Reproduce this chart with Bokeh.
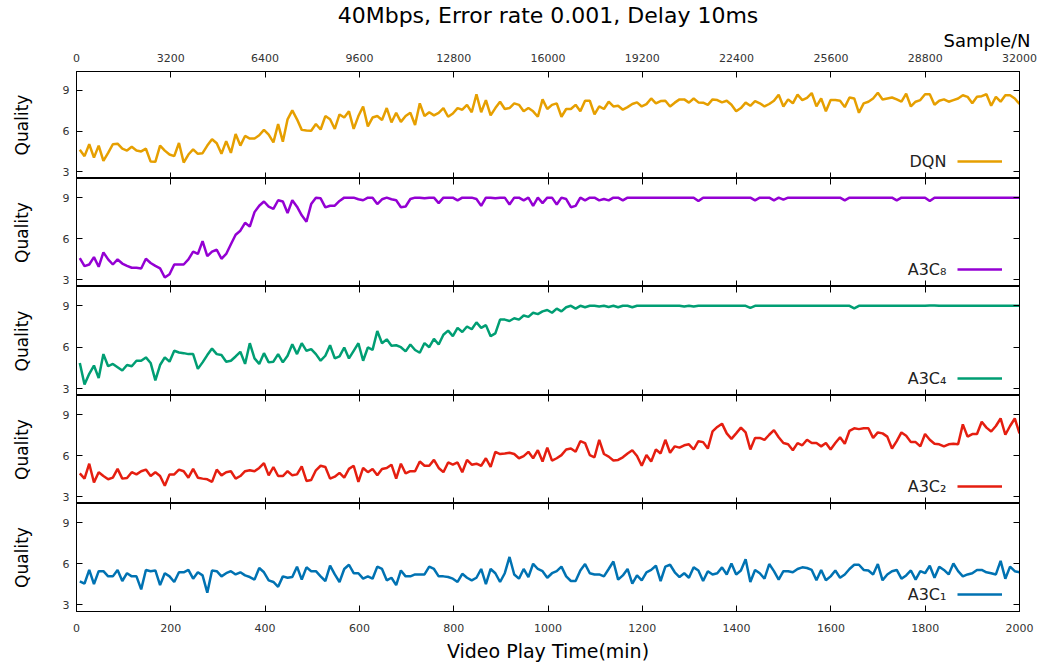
import numpy as np
from bokeh.plotting import figure
from bokeh.layouts import column
from bokeh.models import (Range1d, LinearAxis, FixedTicker, Title, Label,
                          Legend, LegendItem, CustomLabelingPolicy)
from bokeh.embed import file_html
from bokeh.resources import INLINE

title_text = "40Mbps, Error rate 0.001, Delay 10ms"
x_label = "Video Play Time(min)"
top_label = "Sample/N"
y_label = "Quality"
x_ticks = list(range(0, 2001, 200))
top_ticks = list(range(0, 32001, 3200))
y_ticks = [3, 6, 9]

dqn = [4.63, 4.15, 5.03, 4.04, 4.93, 3.8, 4.39, 5.03, 5.07, 4.7,
       4.56, 4.84, 4.56, 4.5, 4.7, 3.75, 3.73, 4.93, 4.56, 4.27,
       4.15, 5.12, 3.68, 4.27, 4.65, 4.32, 4.37, 4.93, 5.4, 5.1,
       4.32, 5.26, 4.39, 5.78, 4.93, 5.64, 5.45, 5.45, 5.69, 6.09,
       5.74, 5.17, 6.52, 5.22, 6.87, 7.53, 6.87, 6.09, 6.04, 6.02,
       6.52, 6.12, 7.11, 6.87, 6.16, 7.23, 7.0, 7.46, 6.16, 7.11,
       7.82, 6.35, 7.0, 7.11, 6.82, 7.7, 6.64, 7.35, 6.68, 7.11,
       7.35, 6.45, 8.05, 7.11, 7.39, 7.16, 7.35, 7.7, 7.06, 7.3,
       7.7, 7.58, 7.94, 7.39, 8.72, 7.39, 8.29, 7.16, 7.7, 8.17,
       7.63, 7.7, 8.05, 7.94, 7.46, 7.7, 7.46, 7.06, 8.34, 7.63,
       7.94, 8.05, 7.06, 7.63, 7.63, 7.94, 7.46, 8.24, 8.24, 7.23,
       7.82, 7.63, 8.17, 7.82, 7.87, 7.58, 7.77, 8.0, 8.12, 7.82,
       7.99, 8.41, 8.05, 8.22, 8.24, 7.82, 8.1, 8.34, 8.34, 8.1,
       8.41, 8.12, 8.1, 7.94, 8.34, 8.29, 8.12, 8.24, 7.94, 7.46,
       7.7, 8.1, 7.87, 8.22, 8.05, 7.82, 8.0, 8.24, 8.69, 7.82,
       8.34, 8.05, 8.69, 8.29, 8.46, 8.81, 7.82, 8.41, 7.46, 8.29,
       8.29, 8.24, 7.77, 8.48, 8.41, 7.35, 8.05, 8.17, 8.41, 8.83,
       8.34, 8.41, 8.48, 8.34, 8.17, 8.76, 7.82, 8.17, 8.29, 8.72,
       8.72, 7.94, 8.24, 8.34, 8.17, 8.29, 8.41, 8.65, 8.53, 8.05,
       8.53, 8.58, 8.72, 7.87, 8.53, 8.17, 8.65, 8.65, 8.41, 8.0]

a3c8 = [4.58, 3.99, 4.11, 4.65, 3.94, 5.0, 4.48, 4.11, 4.48, 4.18,
        4.01, 3.87, 3.87, 3.82, 4.53, 4.22, 4.01, 3.82, 3.16, 3.4,
        4.11, 4.11, 4.11, 4.48, 5.05, 4.88, 5.82, 4.72, 5.05, 5.19,
        4.53, 4.88, 5.59, 6.29, 6.58, 7.16, 6.88, 7.94, 8.41, 8.72,
        8.34, 8.18, 8.81, 8.72, 7.87, 8.81, 8.34, 7.71, 7.24, 8.53,
        9.0, 8.95, 8.29, 8.41, 8.41, 8.76, 9.0, 9.0, 9.0, 8.88,
        8.81, 9.0, 9.0, 8.53, 8.88, 9.0, 8.88, 8.81,
        8.3, 8.35, 8.9, 9.0, 9.0, 8.95, 9.0, 9.0, 8.6, 9.0,
        9.0, 9.0, 8.8, 9.0, 9.0, 9.0, 8.9, 8.4, 9.0, 9.0,
        8.95, 9.0, 9.0, 8.5, 9.0, 9.0, 8.8, 9.0, 8.4, 9.0,
        8.6, 9.0, 9.0, 8.5, 9.0, 8.9, 8.3, 8.4, 9.0, 8.8,
        9.0, 9.0, 8.8, 8.9, 8.8, 9.0, 9.0, 8.8, 9.0, 9.0,
        9.0, 9.0, 9.0, 9.0, 9.0, 9.0, 9.0, 9.0, 9.0, 9.0,
        9.0, 9.0, 9.0, 8.75, 9.0, 9.0, 9.0, 9.0, 9.0, 9.0,
        9.0, 9.0, 9.0, 9.0, 9.0, 8.8, 9.0, 9.0, 9.0, 8.8,
        9.0, 8.85, 9.0, 9.0, 9.0, 9.0, 9.0, 9.0, 9.0, 9.0,
        9.0, 9.0, 9.0, 9.0, 8.8, 9.0, 9.0, 9.0, 9.0, 9.0,
        9.0, 9.0, 9.0, 9.0, 9.0, 8.8, 9.0, 9.0, 9.0, 9.0,
        9.0, 9.0, 8.75, 9.0, 9.0, 9.0, 9.0, 9.0, 9.0, 9.0,
        9.0, 9.0, 9.0, 9.0, 9.0, 9.0, 9.0, 9.0, 9.0, 9.0,
        9.0, 9.0]

a3c4 = [4.86, 3.29, 4.07, 4.67, 3.76, 5.5, 4.62, 4.79, 4.55, 4.31,
        4.71, 4.62, 5.02, 5.02, 5.26, 4.86, 3.6, 4.71, 5.26, 4.95,
        5.74, 5.62, 5.57, 5.5, 5.5, 4.43, 4.9, 5.43, 5.9, 5.5,
        5.43, 4.95, 5.02, 5.33, 5.67, 4.79, 6.29, 5.19, 4.79, 5.57,
        4.9, 4.95, 5.5, 4.9, 5.38, 6.21, 5.5, 6.29, 5.74, 5.86,
        5.5, 5.02, 5.38, 6.14, 5.19, 5.33, 5.98, 5.19, 5.74, 6.29,
        5.02, 5.98, 5.81, 7.17, 6.29, 6.57, 6.1, 6.14,
        6.0, 5.7, 6.2, 5.8, 5.6, 6.3, 6.0, 6.6, 6.2, 6.9,
        7.2, 6.8, 7.4, 7.1, 7.5, 7.3, 7.8, 7.4, 7.6, 6.8,
        7.0, 8.0, 8.0, 7.9, 8.1, 8.0, 8.3, 8.2, 8.5, 8.4,
        8.6, 8.7, 8.5, 8.8, 8.6, 8.9, 9.0, 8.8, 9.0, 8.9,
        9.0, 9.0,
        8.95, 9.0, 8.92, 9.0, 8.9, 9.0, 9.0, 8.9, 9.0, 9.0,
        9.0, 9.0, 9.0, 9.0, 9.0, 9.0, 9.0, 9.0, 8.95, 9.0,
        8.95, 9.0, 9.0, 9.0, 9.0, 9.0, 9.0, 9.0, 9.0, 9.0,
        9.0, 9.0, 8.85, 9.0, 9.0, 9.0, 9.0, 9.0, 9.0, 9.0,
        9.0, 9.0, 9.0, 9.0, 9.0, 9.0, 9.0, 9.0, 9.0, 9.0,
        9.0, 9.0, 9.0, 9.0, 8.82, 9.0, 9.0, 9.0, 9.0, 9.0,
        9.0, 9.0, 9.0, 9.0, 9.0, 9.0, 9.0, 9.0, 9.0, 9.0,
        9.03, 9.03, 9.0, 9.0, 9.0, 9.0, 9.0, 9.0, 9.0, 9.0,
        9.0, 9.0, 9.0, 9.0, 9.0, 9.0, 9.0, 9.0, 9.0, 9.0]

a3c2 = [4.70, 4.32, 5.41, 4.04, 4.79, 4.51, 4.27, 4.39, 5.03, 4.32,
        4.37, 4.79, 4.63, 4.86, 4.98, 4.51, 4.79, 4.51, 3.8, 4.63,
        4.63, 4.98, 4.86, 4.39, 5.03, 4.39, 4.32, 4.27, 4.08, 4.98,
        4.56, 4.79, 4.86, 4.32, 4.51, 4.86, 4.93, 4.86, 5.1, 5.45,
        4.56, 5.17, 4.51, 4.51, 4.86, 4.56, 4.63, 5.22, 4.15, 4.22,
        4.93, 5.26, 5.17, 4.32, 4.46, 4.74, 4.39, 5.03, 5.26, 4.08,
        5.1, 4.79, 5.03, 4.56, 5.03, 5.1, 5.34, 4.32, 5.41, 4.7,
        4.86, 4.86, 5.57, 5.26, 5.26, 5.69, 5.1, 4.79, 5.5, 5.34,
        5.5, 4.79, 5.69, 5.34, 5.41, 5.26, 5.81, 5.17, 6.28, 6.12,
        6.16, 6.21, 6.12, 5.81, 5.97, 6.28, 5.81, 6.4, 5.57, 6.59,
        5.64, 5.81, 6.04, 6.45, 6.52, 6.28, 7.06, 6.92, 6.04, 5.88,
        7.16, 6.12, 5.93, 5.64, 5.69, 5.88, 6.16, 6.4, 5.97, 5.26,
        6.04, 5.57, 6.45, 6.16, 7.16, 6.21, 6.68, 6.59, 6.76, 6.83,
        6.45, 7.06, 6.99, 6.52, 7.77, 8.1, 8.34, 7.63, 7.23, 7.63,
        8.05, 7.7, 6.45, 7.3, 7.3, 7.16, 7.53, 7.87, 7.35, 6.92,
        6.83, 6.4, 6.92, 6.76, 7.16, 6.92, 6.92, 6.68, 6.92, 6.45,
        6.92, 7.35, 6.87, 7.82, 8.0, 7.94, 8.0, 8.0, 7.3, 7.7,
        7.63, 7.39, 6.52, 7.06, 7.7, 7.46, 6.99, 6.99, 6.68, 7.58,
        7.16, 6.87, 6.83, 6.68, 6.83, 6.87, 6.83, 8.29, 7.39, 7.58,
        7.58, 8.48, 8.05, 7.77, 8.17, 8.72, 7.53, 8.17, 8.72, 7.63]

a3c1 = [4.71, 4.54, 5.54, 4.5, 5.45, 5.45, 5.07, 5.07, 5.54, 4.73,
        5.3, 5.07, 5.07, 4.12, 5.54, 5.45, 5.5, 4.43, 5.3, 5.07,
        4.66, 5.37, 5.37, 5.54, 4.9, 5.37, 5.14, 3.88, 5.5, 5.45,
        5.07, 5.3, 5.45, 5.21, 5.37, 5.14, 5.02, 4.83, 5.68, 5.37,
        4.78, 4.66, 4.31, 5.07, 4.97, 5.02, 5.78, 4.83, 5.73, 5.45,
        5.45, 5.07, 4.73, 5.85, 5.21, 4.66, 5.61, 5.92, 5.3, 5.3,
        4.9, 5.07, 4.9, 5.78, 5.61, 4.78, 4.97, 4.43, 5.5, 5.07,
        5.07, 5.21, 5.21, 5.21, 5.78, 5.61, 5.07, 5.07, 5.02, 4.9,
        4.66, 5.26, 4.97, 4.78, 4.97, 5.61, 4.5, 5.61, 5.3, 4.66,
        5.3, 6.49, 5.21, 4.9, 5.61, 5.02, 5.99, 5.61, 5.45, 4.97,
        5.3, 5.45, 5.78, 5.07, 4.73, 4.73, 5.5, 5.97, 5.3, 5.21,
        5.21, 5.07, 5.61, 6.16, 4.83, 5.14, 5.61, 4.54, 5.14, 4.78,
        5.37, 5.54, 5.85, 4.73, 5.78, 5.92, 5.37, 5.02, 5.3, 4.97,
        5.73, 5.5, 4.73, 5.45, 5.21, 5.3, 5.73, 5.21, 6.01, 5.21,
        5.5, 6.32, 4.66, 5.54, 5.3, 4.9, 5.97, 5.45, 4.83, 5.45,
        5.45, 5.37, 5.61, 5.73, 5.68, 5.54, 4.78, 5.54, 4.78, 5.07,
        5.5, 4.97, 5.21, 5.61, 5.92, 5.92, 5.54, 5.5, 5.21, 5.97,
        4.78, 5.21, 5.45, 5.54, 4.9, 5.14, 5.5, 4.83, 5.45, 5.3,
        5.85, 4.97, 5.78, 5.54, 5.21, 6.01, 5.45, 5.07, 5.21, 5.3,
        5.54, 5.54, 5.37, 5.3, 5.21, 6.2, 4.9, 5.78, 5.45, 5.37]

names = ["DQN", "A3C\u2088", "A3C\u2084", "A3C\u2082", "A3C\u2081"]
colors = ["#E69F00", "#9400D3", "#009E73", "#E51E10", "#0072B2"]
values = [dqn, a3c8, a3c4, a3c2, a3c1]

FONT = "DejaVu Sans"
TICK_COLOR = "#333333"
W = 1045
frame_heights = [109, 108, 109, 108, 108]
TOP, BOTTOM = 69, 55
Y_LO, Y_HI = 2.5, 10.4
X_LO, X_HI = 0, 2000


def style_axis(ax, labels=True, standoff=7):
    ax.major_tick_in = 6
    ax.major_tick_out = 0
    ax.minor_tick_line_color = None
    ax.axis_line_color = "black"
    ax.major_tick_line_color = "black"
    ax.major_label_text_font = FONT
    ax.major_label_text_color = TICK_COLOR
    if labels:
        ax.major_label_text_font_size = "11px"
        ax.major_label_standoff = standoff
    else:
        ax.major_label_text_font_size = "0px"
        ax.major_label_standoff = 0
        ax.major_label_policy = CustomLabelingPolicy(code="return []")


figs = []
for i in range(5):
    vals = values[i]
    xs = np.linspace(7, 2000, len(vals))
    top = TOP if i == 0 else 0
    bottom = BOTTOM if i == 4 else 0
    fh = frame_heights[i]
    ppu = fh / (Y_HI - Y_LO)
    p = figure(width=W, height=fh + top + bottom,
               x_range=Range1d(X_LO, X_HI), y_range=Range1d(Y_LO, Y_HI),
               output_backend="svg", toolbar_location=None, tools="",
               x_axis_location=None, y_axis_location=None,
               min_border_left=76, min_border_right=26,
               min_border_top=top, min_border_bottom=bottom)
    p.grid.visible = False
    p.outline_line_color = "black"
    p.background_fill_color = "white"
    p.border_fill_color = "white"

    left = LinearAxis(ticker=FixedTicker(ticks=y_ticks), axis_label=y_label)
    style_axis(left)
    left.axis_label_text_font = FONT
    left.axis_label_text_font_size = "17px"
    left.axis_label_text_font_style = "normal"
    left.axis_label_text_color = "black"
    left.axis_label_standoff = 28
    p.add_layout(left, "left")

    right = LinearAxis(ticker=FixedTicker(ticks=y_ticks))
    style_axis(right, labels=False)
    p.add_layout(right, "right")

    if i == 4:
        below = LinearAxis(ticker=FixedTicker(ticks=x_ticks), axis_label=x_label)
        style_axis(below, standoff=12)
        below.axis_label_text_font = FONT
        below.axis_label_text_font_size = "19px"
        below.axis_label_text_font_style = "normal"
        below.axis_label_text_color = "black"
        below.axis_label_standoff = 5
    else:
        below = LinearAxis(ticker=FixedTicker(ticks=x_ticks))
        style_axis(below, labels=False)
    p.add_layout(below, "below")

    if i == 0:
        p.extra_x_ranges = {"samples": Range1d(0, 32000)}
        above = LinearAxis(x_range_name="samples", ticker=FixedTicker(ticks=top_ticks))
        style_axis(above, standoff=10)
        p.add_layout(above, "above")
        p.add_layout(Title(text=top_label, align="right", text_font=FONT,
                           text_font_size="18px", text_font_style="normal",
                           text_color="black", offset=-11, standoff=0), "above")
        p.add_layout(Title(text=title_text, align="center", text_font=FONT,
                           text_font_size="22px", text_font_style="normal",
                           text_color="black", standoff=0), "above")
    else:
        above = LinearAxis(ticker=FixedTicker(ticks=x_ticks))
        style_axis(above, labels=False)
        p.add_layout(above, "above")

    r = p.line(xs, vals, line_color=colors[i], line_width=2.5)

    leg = Legend(items=[LegendItem(label=" ", renderers=[r])],
                 location=(881, 12), glyph_width=45, glyph_height=10,
                 label_width=0, label_standoff=0, padding=0, margin=0,
                 spacing=0, border_line_color=None, background_fill_alpha=0,
                 label_text_font_size="1px")
    p.add_layout(leg)
    p.add_layout(Label(x=X_LO + 1845, y=Y_LO + 17 / ppu, text=names[i],
                       text_align="right", text_baseline="middle",
                       text_font=FONT, text_font_size="16px",
                       text_color="#222222"))
    figs.append(p)

layout = column(*figs, spacing=0)
open("out.html", "w").write(file_html(layout, INLINE))
